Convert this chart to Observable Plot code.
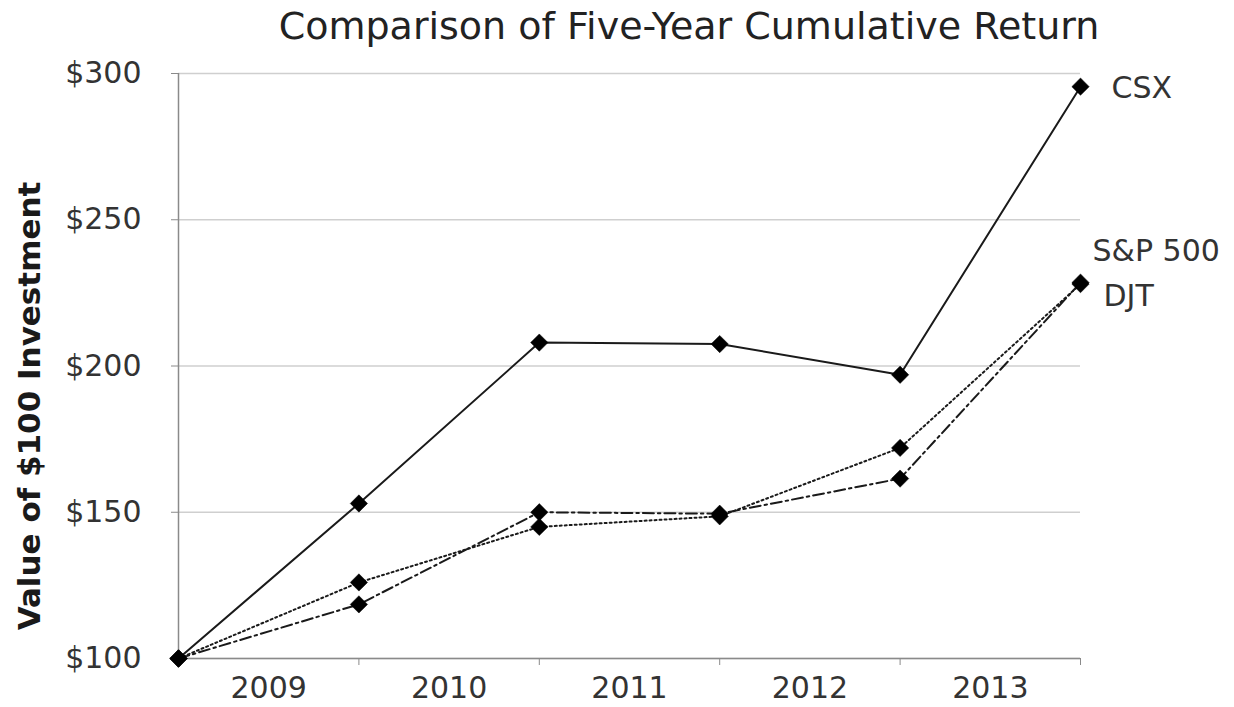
<!DOCTYPE html>
<html>
<head>
<meta charset="utf-8">
<script src="https://cdn.jsdelivr.net/npm/d3@7"></script>
<script src="https://cdn.jsdelivr.net/npm/@observablehq/plot@0.6"></script>
<style>
  html, body { margin: 0; padding: 0; background: #fff; }
  #wrap { position: relative; width: 1234px; height: 707px; font-family: "DejaVu Sans", Verdana, sans-serif; }
  #title { position: relative; height: 55px; line-height: 55px; font-size: 38px; color: #222; }
  #title span { position: absolute; left: 689px; top: -1px; transform: translateX(-50%); white-space: nowrap; }
</style>
</head>
<body>
<div id="wrap">
  <div id="title"><span>Comparison of Five-Year Cumulative Return</span></div>
  <div id="chart"></div>
</div>
<script>
// ---- data ----
const years = [2008, 2009, 2010, 2011, 2012, 2013];
const csx   = [100, 153, 208, 207.5, 197, 295.5];
const sp500 = [100, 126, 145, 148.6, 172, 228];
const djt   = [100, 118.5, 150, 149.5, 161.5, 228.5];
const yearLabels = ["2009", "2010", "2011", "2012", "2013"];
const yTicks = [100, 150, 200, 250, 300];
const seriesNames = ["CSX", "S&P 500", "DJT"];

const rows = (name, vals) => years.map((yr, i) => ({series: name, year: yr, value: vals[i]}));
const csxRows = rows(seriesNames[0], csx);
const spRows = rows(seriesNames[1], sp500);
const djtRows = rows(seriesNames[2], djt);
const lastOf = r => [r[r.length - 1]];

const ink = "#1a1a1a";
const axisGray = "#8a8a8a";

const chart = Plot.plot({
  width: 1234,
  height: 652,
  marginLeft: 178,
  marginRight: 154,
  marginTop: 18,
  marginBottom: 49,
  style: {fontFamily: "DejaVu Sans, Verdana, sans-serif", background: "#fff", overflow: "visible"},
  x: {type: "linear", domain: [years[0], years[years.length - 1]]},
  y: {domain: [100, 300]},
  marks: [
    Plot.gridY(yTicks, {stroke: "#cfcfcf", strokeOpacity: 1, strokeWidth: 1.5}),
    Plot.ruleX([years[0]], {stroke: axisGray, strokeWidth: 1.5}),
    Plot.ruleY([100], {stroke: axisGray, strokeWidth: 1.5}),
    Plot.axisY(yTicks, {
      tickFormat: d => `$${d}`, tickSize: 7, tickPadding: 30,
      stroke: axisGray, fill: "#333", fontSize: 30, label: null
    }),
    Plot.axisX(years, {tickFormat: () => "", tickSize: 7, stroke: axisGray, label: null}),
    Plot.axisX(yearLabels.map(Number).map(y => y - 0.5), {
      tickFormat: d => yearLabels[Math.round(d + 0.5) - 2009], tickSize: 0, tickPadding: 18,
      fill: "#333", fontSize: 30, label: null
    }),
    Plot.text(["Value of $100 Investment"], {
      frameAnchor: "left", textAnchor: "middle", rotate: -90, dx: -148, dy: 40,
      fontSize: 31, fontWeight: "bold", fill: ink
    }),
    Plot.line(csxRows, {x: "year", y: "value", stroke: ink, strokeWidth: 2}),
    Plot.line(spRows, {x: "year", y: "value", stroke: ink, strokeWidth: 2, strokeDasharray: "2,3"}),
    Plot.line(djtRows, {x: "year", y: "value", stroke: ink, strokeWidth: 2, strokeDasharray: "11,4,2.5,4"}),
    Plot.dot([...csxRows, ...spRows, ...djtRows], {
      x: "year", y: "value", symbol: "diamond2", r: 7.8, fill: "#000", stroke: "#000", strokeWidth: 0.5
    }),
    Plot.text(lastOf(csxRows), {x: "year", y: "value", text: "series", textAnchor: "start", dx: 31, dy: 2, fontSize: 30, fill: "#333"}),
    Plot.text(lastOf(spRows), {x: "year", y: "value", text: "series", textAnchor: "start", dx: 12, dy: -33, fontSize: 30, fill: "#333"}),
    Plot.text(lastOf(djtRows), {x: "year", y: "value", text: "series", textAnchor: "start", dx: 23, dy: 14, fontSize: 30, fill: "#333"})
  ]
});
document.getElementById("chart").appendChild(chart);
</script>
</body>
</html>
